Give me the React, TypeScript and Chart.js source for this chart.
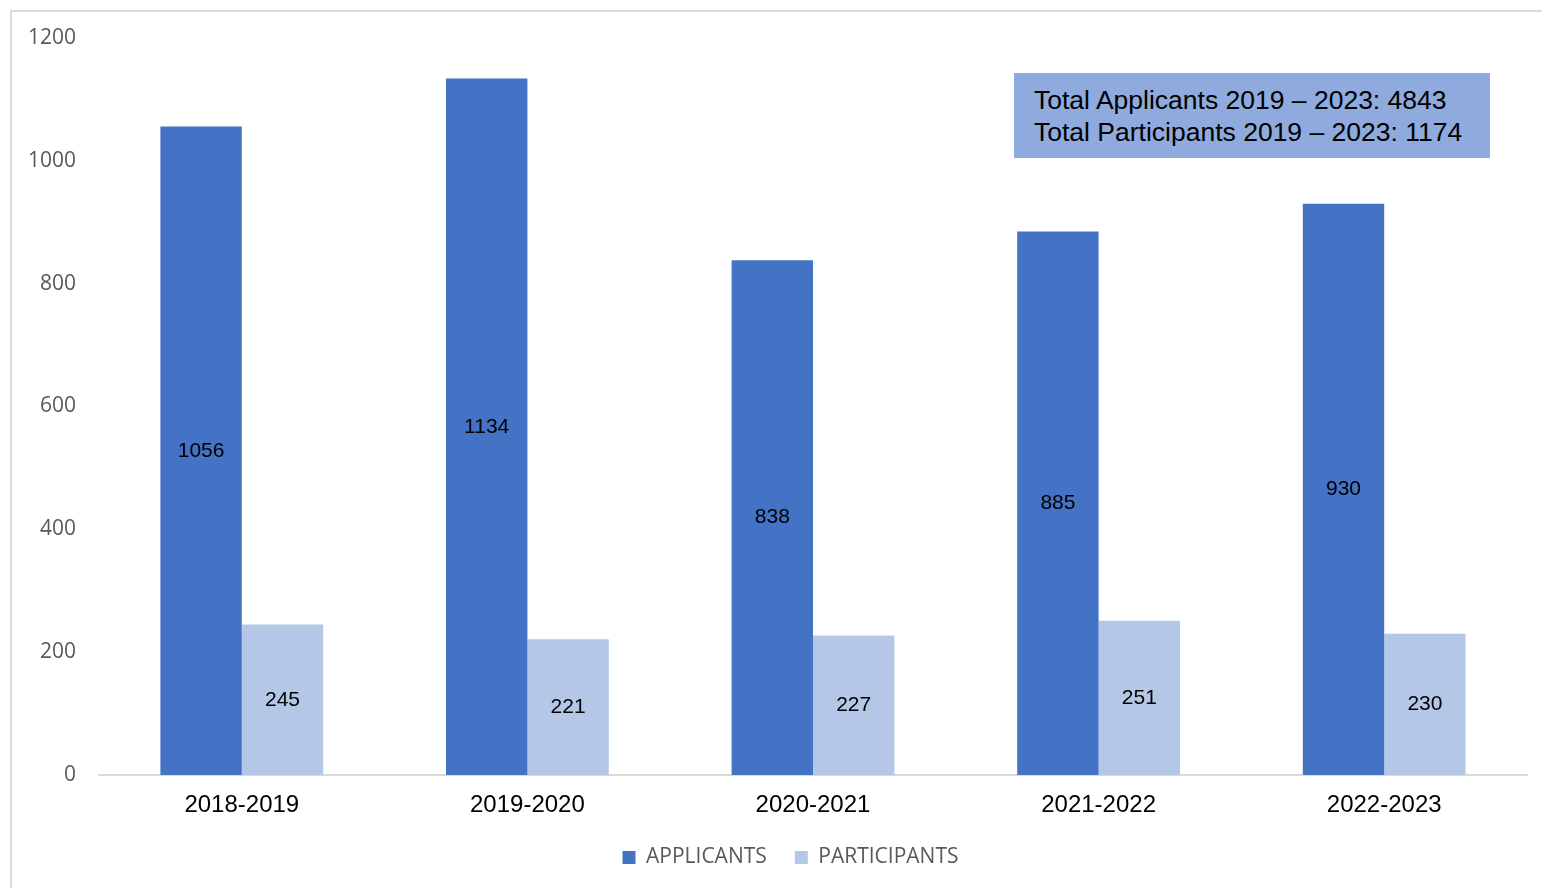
import React, { useEffect, useRef } from "react";
import { Chart, registerables } from "chart.js";

Chart.register(...registerables);

const categories = ["2018-2019", "2019-2020", "2020-2021", "2021-2022", "2022-2023"];
const applicants = [1056, 1134, 838, 885, 930];
const participants = [245, 221, 227, 251, 230];
const seriesNames = ["APPLICANTS", "PARTICIPANTS"];
const summaryLines = [
  "Total Applicants 2019 \u2013 2023: 4843",
  "Total Participants 2019 \u2013 2023: 1174",
];

const barValueLabels = {
  id: "barValueLabels",
  afterDatasetsDraw(chart: any) {
    const ctx = chart.ctx;
    ctx.save();
    ctx.font = '21px "Liberation Sans", Arial, sans-serif';
    ctx.fillStyle = "#000000";
    ctx.textAlign = "center";
    ctx.textBaseline = "middle";
    chart.data.datasets.forEach((ds: any, i: number) => {
      const meta = chart.getDatasetMeta(i);
      meta.data.forEach((bar: any, j: number) => {
        const { x, y, base } = bar.getProps(["x", "y", "base"], true);
        ctx.fillText(String(ds.data[j]), x, (y + base) / 2);
      });
    });
    ctx.restore();
  },
};

// Shift the legend so it is centred under the plot area rather than the whole canvas.
const legendOffset = {
  id: "legendOffset",
  afterLayout(chart: any) {
    const lg = chart.legend;
    if (!lg) return;
    const shift = 27;
    lg.left += shift;
    lg.right += shift;
    if (lg.legendHitBoxes) lg.legendHitBoxes.forEach((h: any) => (h.left += shift));
  },
};

export default function App() {
  const canvasRef = useRef<HTMLCanvasElement>(null);

  useEffect(() => {
    if (!canvasRef.current) return;
    const chart = new Chart(canvasRef.current, {
      type: "bar",
      data: {
        labels: categories,
        datasets: [
          {
            label: seriesNames[0],
            data: applicants,
            backgroundColor: "#4472c4",
            categoryPercentage: 0.57,
            barPercentage: 1.0,
          },
          {
            label: seriesNames[1],
            data: participants,
            backgroundColor: "#b4c7e7",
            categoryPercentage: 0.57,
            barPercentage: 1.0,
          },
        ],
      },
      options: {
        animation: false,
        responsive: true,
        maintainAspectRatio: false,
        layout: { padding: { top: 38, right: 15, bottom: 0, left: 0 } },
        plugins: {
          legend: {
            position: "bottom",
            labels: {
              boxWidth: 13,
              boxHeight: 13,
              padding: 28,
              color: "#595959",
              font: { family: '"Open Sans", sans-serif', size: 21 },
            },
          },
          tooltip: { enabled: false },
        },
        scales: {
          x: {
            grid: { display: false },
            border: { display: true, color: "#d9d9d9", width: 2 },
            ticks: {
              color: "#000000",
              padding: 8,
              font: { family: '"Liberation Sans", Arial, sans-serif', size: 24 },
            },
            afterFit(scale: any) {
              scale.height = 44;
            },
          },
          y: {
            min: 0,
            max: 1200,
            grid: { display: false, drawTicks: false },
            border: { display: false },
            ticks: {
              stepSize: 200,
              color: "#595959",
              padding: 23,
              font: { family: '"Open Sans", sans-serif', size: 21 },
              callback: (v: any) => String(v),
            },
            afterFit(scale: any) {
              scale.width = 99;
            },
          },
        },
      },
      plugins: [barValueLabels, legendOffset],
    });
    return () => chart.destroy();
  }, []);

  return (
    <div
      style={{
        position: "fixed",
        left: 0,
        top: 0,
        width: 1542,
        height: 888,
        overflow: "hidden",
        background: "#ffffff",
      }}
    >
      <div
        style={{
          position: "absolute",
          left: 10,
          top: 10,
          width: 1600,
          height: 1000,
          border: "2px solid #d9d9d9",
          boxSizing: "border-box",
        }}
      />
      <div style={{ position: "absolute", left: 0, top: 0, width: 1542, height: 878 }}>
        <canvas ref={canvasRef} />
      </div>
      <div
        style={{
          position: "absolute",
          left: 1014,
          top: 73,
          width: 476,
          height: 85,
          boxSizing: "border-box",
          background: "#8faadc",
          padding: "11px 0 0 20px",
          fontFamily: '"Liberation Sans", Arial, sans-serif',
          fontSize: 26.5,
          lineHeight: "32px",
          color: "#000000",
          whiteSpace: "nowrap",
        }}
      >
        {summaryLines.map((l) => (
          <div key={l}>{l}</div>
        ))}
      </div>
    </div>
  );
}
